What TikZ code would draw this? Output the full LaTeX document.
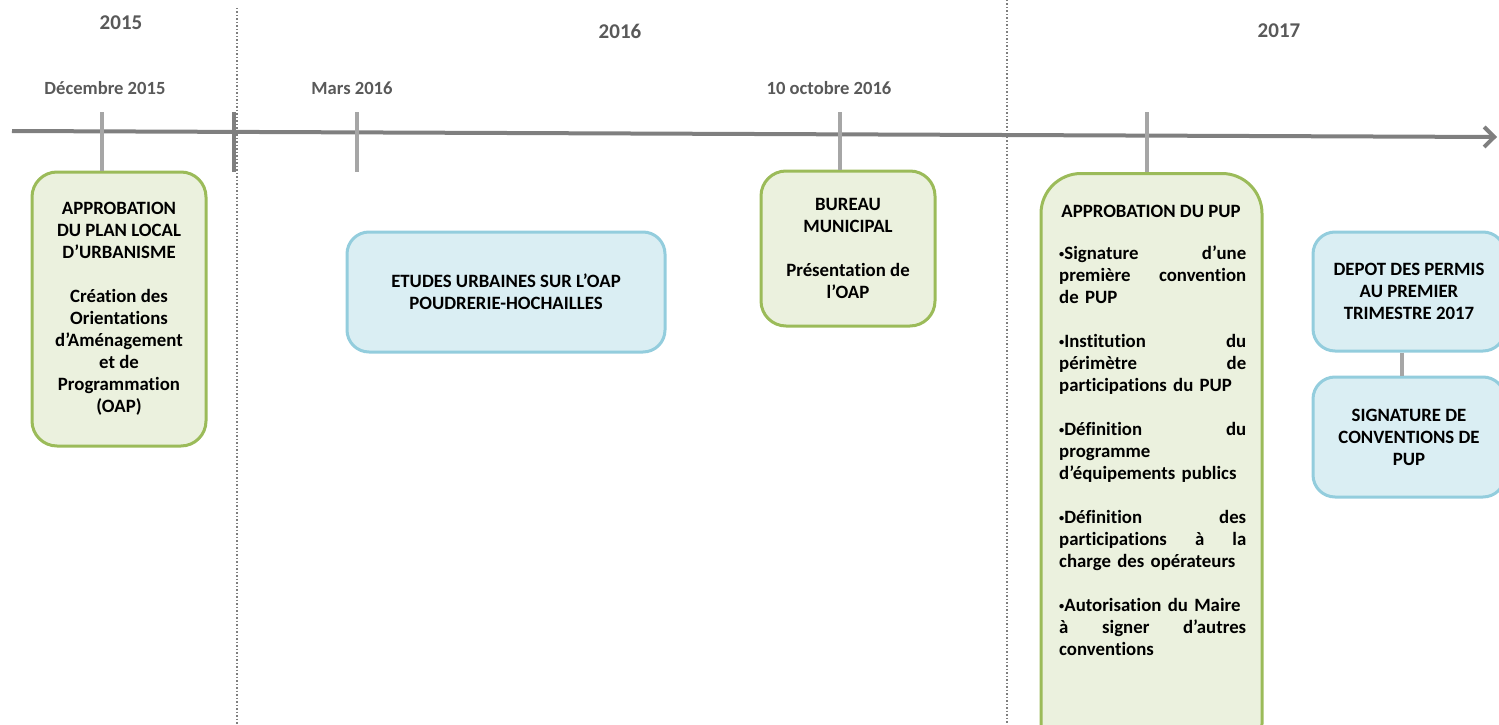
\documentclass[tikz,border=0pt]{standalone}
\usepackage{fontspec}
\setmainfont{Carlito}[Ligatures=NoCommon]
\usetikzlibrary{arrows.meta,positioning}
\definecolor{greenfill}{HTML}{EBF1DE}
\definecolor{greenline}{HTML}{9BBB59}
\definecolor{bluefill}{HTML}{DAEEF3}
\definecolor{blueline}{HTML}{93CDDD}
\definecolor{axisgray}{HTML}{7F7F7F}
\definecolor{tickgray}{HTML}{A6A6A6}
\definecolor{labelgray}{HTML}{595959}
\tikzset{
  boxtext/.style={font=\fontsize{18.8}{22}\selectfont\bfseries, text=black},
  greenbox/.style={boxtext, draw=greenline, fill=greenfill, line width=3pt,
    rounded corners=25pt, align=center},
  bluebox/.style={boxtext, draw=blueline, fill=bluefill, line width=3pt,
    rounded corners=22pt, align=center},
  yearlabel/.style={font=\fontsize{21}{25}\selectfont\bfseries, text=labelgray},
  datelabel/.style={font=\fontsize{18.6}{22}\selectfont\bfseries, text=labelgray},
  tickline/.style={draw=tickgray, line width=4pt},
  sepline/.style={draw=axisgray, line width=1.5pt, dotted}
}
\newcommand{\puce}{\raisebox{0.14em}{\scalebox{0.55}{•}}}

\begin{document}
\begin{tikzpicture}[x=1pt, y=-1pt]
	\useasboundingbox (0,0) rectangle (1499,725);
	\draw[sepline] (237,8) -- (237,725);
	\draw[sepline] (1007,0) -- (1007,725);
	\draw[draw=axisgray, line width=4pt, -{Straight Barb[length=10pt, width=20pt]}]
		(12,131) -- (1497,137);

	\node[yearlabel] (y2015) at (121,23) {2015};
	\node[yearlabel] (y2016) at (620,31) {2016};
	\node[yearlabel] (y2017) at (1279,31) {2017};

	\node[datelabel] (dplu) at (105,88) {Décembre 2015};
	\node[datelabel] (dmars) at (352,88) {Mars 2016};
	\node[datelabel] (doct) at (829,88) {10 octobre 2016};

	\node[greenbox, minimum width=174pt, minimum height=274pt] (plu) at (119,309)
		{APPROBATION\\DU PLAN LOCAL\\D’URBANISME\\[22pt]Création des\\Orientations\\d’Aménagement\\et de\\Programmation\\(OAP)};
	\node[bluebox, minimum width=318pt, minimum height=120pt] (etudes) at (506,292)
		{ETUDES URBAINES SUR L’OAP\\POUDRERIE-HOCHAILLES};
	\node[greenbox, minimum width=174pt, minimum height=155pt] (bureau) at (848,248.5)
		{BUREAU\\MUNICIPAL\\[22pt]Présentation de\\l’OAP};
	\node[greenbox, rounded corners=40pt, minimum width=221pt, minimum height=590pt,
		anchor=north] (pup) at (1151.5,172) {};
	\node[boxtext] (puptitle) at (1151,211) {APPROBATION DU PUP};
	\node[boxtext, text width=187pt, align=left, inner sep=0pt, anchor=north west]
		(puplist) at (1059,246)
		{\puce Signature \hfill d’une\\
		première \hfill convention\\
		de PUP\\[22pt]
		\puce Institution \hfill du\\
		périmètre \hfill de\\
		participations du PUP\\[22pt]
		\puce Définition \hfill du\\
		programme\\
		d’équipements publics\\[22pt]
		\puce Définition \hfill des\\
		participations \hfill à \hfill la\\
		charge des opérateurs\\[22pt]
		\puce Autorisation du Maire\\
		à \hfill signer \hfill d’autres\\
		conventions};
	\node[bluebox, minimum width=192pt, minimum height=119pt] (depot) at (1409,291.5)
		{DEPOT DES PERMIS\\AU PREMIER\\TRIMESTRE 2017};
	\node[bluebox, minimum width=192pt, minimum height=120pt, below=23pt of depot] (signat)
		{SIGNATURE DE\\CONVENTIONS DE\\PUP};

	\coordinate (tplu) at (102,112);
	\coordinate (tsep) at (234,112);
	\coordinate (tsepend) at (234,172);
	\coordinate (tmars) at (357,112);
	\coordinate (tmarsend) at (357,172);
	\coordinate (toct) at (840,112);
	\coordinate (tpup) at (1147,112);
	\draw[tickline] (tplu) -- (tplu |- plu.north);
	\draw[tickline, draw=axisgray] (tsep) -- (tsepend);
	\draw[tickline] (tmars) -- (tmarsend);
	\draw[tickline] (toct) -- (toct |- bureau.north);
	\draw[tickline] (tpup) -- (tpup |- pup.north);
	\draw[tickline] ([xshift=-7pt]depot.south) -- ([xshift=-7pt]signat.north);
\end{tikzpicture}
\end{document}
